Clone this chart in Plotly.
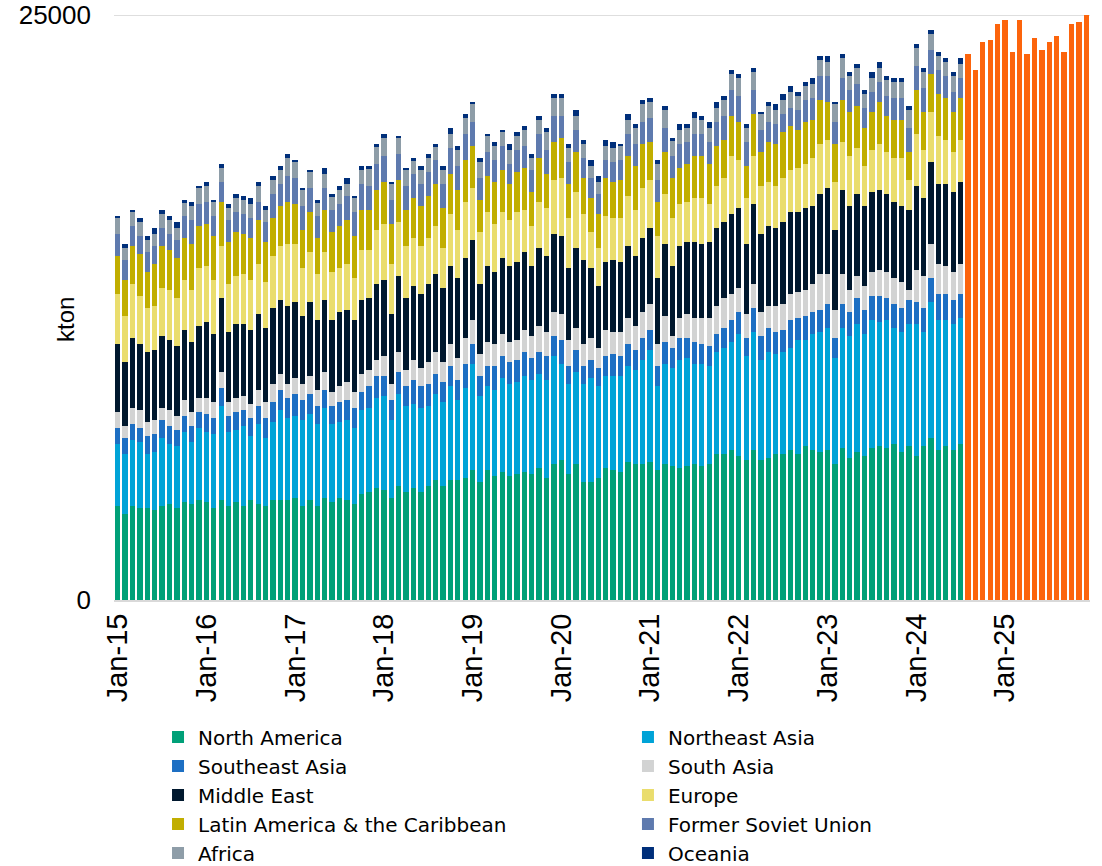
import pandas as pd
import plotly.graph_objects as go

# ---------------- data (kton) ----------------
months = pd.date_range("2015-01-01", periods=132, freq="MS").strftime("%b-%y").tolist()
hist_months = months[:115]      # Jan-15 .. Jul-24
fcst_months = months[115:]      # Aug-24 .. Dec-25
year_ticks = [m for m in months if m.startswith("Jan")]

north_america = [
    4017, 3675, 4017, 3932, 3932, 3846, 4017, 4103, 3932, 4188,
    4103, 4274, 4188, 3932, 4274, 4017, 4188, 4017, 4274, 4103,
    4017, 4274, 4274, 4274, 4359, 4017, 4274, 4017, 4359, 4188,
    4359, 4274, 4103, 4530, 4615, 4786, 4701, 4359, 4872, 4615,
    4786, 4615, 4872, 5128, 4872, 5128, 5128, 5214, 5556, 5043,
    5556, 5299, 5470, 5299, 5385, 5470, 5385, 5641, 5214, 5812,
    5983, 5385, 5812, 5043, 5043, 5214, 5641, 5556, 5470, 5897,
    5812, 5812, 5897, 5556, 5812, 5726, 5641, 5726, 5812, 5726,
    5812, 6239, 6239, 6410, 6154, 5983, 6410, 5983, 6068, 6239,
    6239, 6410, 6239, 6581, 6410, 6325, 6410, 5812, 6496, 6068,
    6325, 6154, 6496, 6581, 6496, 6667, 6325, 6581, 6154, 6581,
    6923, 6410, 6581, 6410, 6667]
northeast_asia = [
    2650, 2564, 2821, 2821, 2308, 2479, 2906, 2564, 2650, 2991,
    2650, 3077, 2991, 3162, 4017, 3162, 3077, 3419, 2735, 3419,
    2906, 3333, 3846, 3504, 3504, 3675, 3675, 3504, 3846, 3333,
    3248, 3419, 3248, 3590, 3590, 3846, 4017, 3333, 3932, 3675,
    3590, 3590, 3419, 3675, 3590, 4017, 3419, 3846, 4530, 3675,
    3590, 3675, 4017, 3932, 3932, 4103, 4017, 4017, 4188, 4615,
    4103, 3846, 3932, 4188, 4444, 3932, 3932, 4017, 4103, 4103,
    4017, 4444, 4786, 3590, 4274, 4188, 4615, 4615, 4274, 4359,
    4188, 4359, 4530, 4615, 5214, 4444, 5043, 4274, 4530, 4274,
    4359, 4359, 4872, 4530, 4957, 5128, 5214, 4530, 5128, 5214,
    5470, 5214, 5470, 5299, 5470, 4957, 5128, 5214, 5641, 4872,
    5812, 5556, 5385, 5385, 5385]
southeast_asia = [
    684, 684, 684, 598, 769, 769, 769, 769, 684, 684,
    684, 684, 769, 684, 769, 684, 769, 684, 769, 769,
    855, 855, 855, 855, 940, 855, 855, 769, 769, 769,
    855, 855, 855, 769, 940, 940, 855, 855, 940, 855,
    1026, 940, 940, 855, 855, 855, 855, 1026, 855, 855,
    855, 1026, 940, 940, 940, 1026, 940, 940, 1026, 855,
    1026, 769, 940, 769, 769, 769, 855, 940, 855, 940,
    855, 940, 855, 855, 940, 855, 940, 855, 940, 855,
    855, 769, 855, 940, 940, 769, 1026, 1026, 1026, 940,
    940, 1197, 940, 1026, 940, 940, 1026, 855, 1026, 1026,
    1111, 1026, 1026, 1111, 940, 1026, 1026, 1026, 940, 1026,
    1026, 1111, 1111, 1026, 1026]
south_asia = [
    684, 513, 684, 769, 598, 598, 513, 684, 598, 684,
    598, 598, 684, 684, 684, 598, 598, 598, 598, 684,
    684, 769, 684, 598, 684, 684, 769, 684, 769, 598,
    684, 769, 684, 769, 684, 684, 855, 684, 855, 684,
    855, 769, 940, 940, 855, 940, 940, 1111, 1026, 940,
    1026, 940, 940, 855, 855, 940, 940, 1111, 1026, 1026,
    1111, 1111, 940, 940, 940, 855, 1111, 940, 1026, 1111,
    1026, 1111, 1111, 940, 1111, 513, 855, 1026, 1026, 1111,
    1197, 1197, 1282, 1111, 1026, 1026, 1026, 1026, 940, 1111,
    1111, 1111, 1111, 1111, 1197, 1538, 1282, 1197, 1282, 940,
    940, 1026, 1026, 1111, 1111, 1111, 1111, 427, 1368, 1368,
    1453, 1282, 1197, 1197, 1282]
middle_east = [
    2906, 2735, 2991, 2821, 2991, 2991, 3077, 2991, 2991, 2991,
    2991, 3077, 3248, 2906, 3162, 2991, 3162, 3077, 3162, 3248,
    3162, 3248, 3162, 3333, 3248, 2906, 3162, 2991, 3077, 3077,
    3162, 3077, 3077, 3162, 3077, 3248, 3248, 2991, 3248, 3077,
    3162, 3162, 3333, 3333, 3162, 3333, 3419, 3419, 3419, 2991,
    3248, 3077, 3248, 3248, 3333, 3333, 2991, 3333, 3248, 3333,
    3333, 3077, 3419, 3590, 2991, 2650, 2906, 3077, 2991, 3077,
    2991, 3162, 3248, 2821, 3077, 2991, 3077, 3077, 3248, 3162,
    3248, 3333, 3248, 3419, 3419, 2991, 3419, 3333, 3419, 3333,
    3504, 3504, 3419, 3504, 3333, 3419, 3675, 3419, 3590, 3590,
    3504, 3419, 3419, 3419, 3333, 3248, 3248, 3419, 3590, 3333,
    3504, 3419, 3504, 3419, 3504]
europe = [
    2137, 1966, 2308, 2051, 1880, 1880, 2051, 2137, 2051, 2137,
    2222, 2479, 2393, 2308, 2222, 2051, 2051, 2137, 2137, 2137,
    1966, 2222, 2308, 2650, 2479, 2051, 2137, 1966, 2051, 2051,
    1880, 1966, 1795, 2137, 2051, 2308, 2393, 2137, 2308, 2222,
    2051, 2051, 1966, 2051, 1709, 2222, 2051, 2393, 2222, 2222,
    2308, 2051, 1966, 1966, 2137, 1795, 1709, 1966, 2051, 2308,
    2479, 2137, 2393, 1966, 1538, 1624, 1966, 1795, 1880, 2137,
    1966, 2137, 2051, 1795, 2137, 2051, 1795, 1709, 1880, 1966,
    1624, 1795, 1880, 2479, 2051, 1966, 2051, 2051, 1880, 1795,
    1880, 1795, 1880, 1880, 2051, 2137, 2051, 2051, 2051, 2137,
    1966, 1709, 1795, 1966, 1795, 1880, 2051, 1282, 2222, 2051,
    2137, 2051, 1880, 1709, 1795]
latin_america = [
    1624, 1538, 1624, 1795, 1538, 1795, 1795, 1709, 1709, 1795,
    1966, 1795, 1795, 1880, 1880, 1795, 1880, 1709, 1795, 1880,
    1709, 1624, 1709, 1795, 1709, 1624, 1709, 1538, 1795, 1709,
    1795, 1880, 1795, 1709, 1709, 1709, 1795, 1709, 1795, 1538,
    1709, 1709, 1795, 1795, 1709, 1709, 1709, 1795, 1795, 1368,
    1538, 1795, 1795, 1538, 1709, 1795, 1453, 1880, 1453, 1624,
    1709, 1453, 1709, 1538, 1453, 1453, 1624, 1538, 1624, 1709,
    1880, 1880, 1624, 1453, 1795, 1709, 1538, 1624, 1795, 1795,
    1709, 1709, 1624, 1709, 1624, 1368, 1795, 1453, 1709, 1795,
    1966, 1880, 1624, 1795, 1624, 1880, 1624, 1624, 1795, 1880,
    1795, 1624, 1624, 1795, 1538, 1624, 1624, 1197, 1880, 1624,
    1624, 1795, 1795, 1709, 1795]
former_soviet_union = [
    940, 855, 855, 769, 855, 769, 769, 684, 769, 940,
    1026, 940, 940, 855, 855, 940, 855, 855, 855, 769,
    855, 1026, 940, 1111, 1111, 1026, 1026, 940, 940, 940,
    940, 1026, 1026, 1111, 1026, 1111, 1111, 1026, 1111, 1026,
    1026, 940, 1026, 1026, 1026, 1111, 1026, 1111, 1026, 940,
    1026, 940, 1026, 855, 940, 940, 940, 1026, 1026, 1111,
    940, 940, 940, 855, 855, 855, 769, 855, 855, 940,
    940, 940, 1026, 940, 1026, 940, 1026, 940, 940, 940,
    940, 1026, 1026, 1111, 1111, 1026, 1026, 940, 855, 855,
    769, 769, 855, 940, 940, 1026, 1111, 940, 940, 940,
    940, 855, 855, 855, 855, 940, 940, 1026, 1026, 1026,
    1026, 1026, 940, 855, 855]
africa = [
    684, 513, 598, 598, 513, 513, 598, 598, 513, 598,
    598, 684, 684, 598, 598, 513, 598, 598, 598, 684,
    513, 598, 598, 769, 684, 684, 684, 598, 598, 598,
    598, 513, 598, 598, 769, 769, 769, 684, 684, 684,
    598, 598, 598, 598, 598, 598, 684, 684, 769, 684,
    684, 598, 598, 598, 598, 684, 513, 598, 769, 769,
    769, 598, 598, 598, 513, 513, 598, 598, 598, 598,
    684, 769, 684, 684, 769, 684, 598, 598, 684, 598,
    598, 598, 684, 684, 769, 598, 769, 684, 684, 598,
    598, 684, 598, 598, 598, 684, 598, 769, 855, 598,
    684, 598, 598, 598, 684, 684, 684, 769, 769, 684,
    684, 598, 598, 684, 598]
oceania = [
    85, 171, 85, 171, 171, 256, 171, 171, 256, 85,
    171, 85, 171, 85, 171, 171, 171, 171, 256, 171,
    171, 171, 171, 171, 85, 85, 85, 85, 256, 85,
    171, 256, 85, 171, 85, 85, 171, 85, 85, 85,
    85, 171, 171, 85, 171, 256, 171, 171, 85, 171,
    85, 171, 85, 256, 171, 171, 171, 171, 171, 171,
    171, 171, 256, 171, 256, 256, 256, 256, 85, 256,
    171, 171, 171, 171, 171, 85, 256, 171, 256, 171,
    256, 256, 171, 171, 171, 171, 171, 85, 171, 256,
    256, 256, 171, 171, 256, 171, 256, 85, 171, 171,
    171, 171, 256, 256, 171, 171, 171, 171, 171, 171,
    171, 171, 171, 171, 256]
forecast_total = [
    23333, 22650, 23846, 23932, 24615, 24786, 23419, 24786, 23333,
    24017, 23504, 23846, 24103, 23419, 24615, 24701, 25000]

# (name, values, colour, legend column)
series = [
    ("North America", north_america, "#00a078", "legend"),
    ("Northeast Asia", northeast_asia, "#00a3d7", "legend2"),
    ("Southeast Asia", southeast_asia, "#1d6fc3", "legend"),
    ("South Asia", south_asia, "#d2d3d3", "legend2"),
    ("Middle East", middle_east, "#00182e", "legend"),
    ("Europe", europe, "#eadd6d", "legend2"),
    ("Latin America & the Caribbean", latin_america, "#c1ae00", "legend"),
    ("Former Soviet Union", former_soviet_union, "#5e7aae", "legend2"),
    ("Africa", africa, "#8e9da8", "legend"),
    ("Oceania", oceania, "#002f7a", "legend2"),
]

FONT = "Liberation Sans, Arial, sans-serif"
LEG_FONT = dict(family="DejaVu Sans, Liberation Sans, sans-serif", size=20, color="black")

fig = go.Figure()
for name, vals, col, leg in series:
    fig.add_trace(go.Bar(x=hist_months, y=vals, name=name, legend=leg,
                         marker=dict(color=col, line=dict(width=0))))
fig.add_trace(go.Bar(x=fcst_months, y=forecast_total, name="Forecast",
                     showlegend=False,
                     marker=dict(color="#fc640c", line=dict(width=0))))

leg_common = dict(orientation="v", traceorder="normal", xanchor="left",
                  y=-0.2009, yanchor="top", font=LEG_FONT,
                  bgcolor="rgba(0,0,0,0)", itemclick=False)

fig.update_layout(
    width=1102, height=866,
    margin=dict(l=114, r=12, t=15, b=266, autoexpand=False),
    barmode="stack", bargap=0.28,
    plot_bgcolor="white", paper_bgcolor="white",
    font=dict(family=FONT, color="black"),
    legend=dict(x=0.0451, **leg_common),
    legend2=dict(x=0.5266, **leg_common),
    annotations=[dict(text="kton", textangle=-90, showarrow=False,
                      xref="paper", yref="paper", x=-0.0502, y=0.4786,
                      xanchor="center", yanchor="middle",
                      font=dict(family=FONT, size=24, color="black"))],
    shapes=[dict(type="line", xref="paper", x0=0, x1=1, yref="y",
                 y0=25000, y1=25000, layer="below",
                 line=dict(color="#dedede", width=2))],
)
fig.update_xaxes(type="category", categoryorder="array", categoryarray=months,
                 tickmode="array", tickvals=year_ticks, ticktext=year_ticks,
                 tickangle=-90, tickfont=dict(family=FONT, size=29, color="black"),
                 showline=True, linecolor="#d9d9d9", linewidth=2,
                 showgrid=False, ticks="")
fig.update_yaxes(range=[0, 25000], tickmode="array", tickvals=[0, 25000],
                 ticktext=["0", "25000"],
                 tickfont=dict(family=FONT, size=26, color="black"),
                 showgrid=True, gridcolor="#dedede", gridwidth=2,
                 zeroline=False, ticks="", ticklabelstandoff=22)

fig.write_html("out.html", config={"displayModeBar": False},
               post_script="document.body.style.margin='0px';")
